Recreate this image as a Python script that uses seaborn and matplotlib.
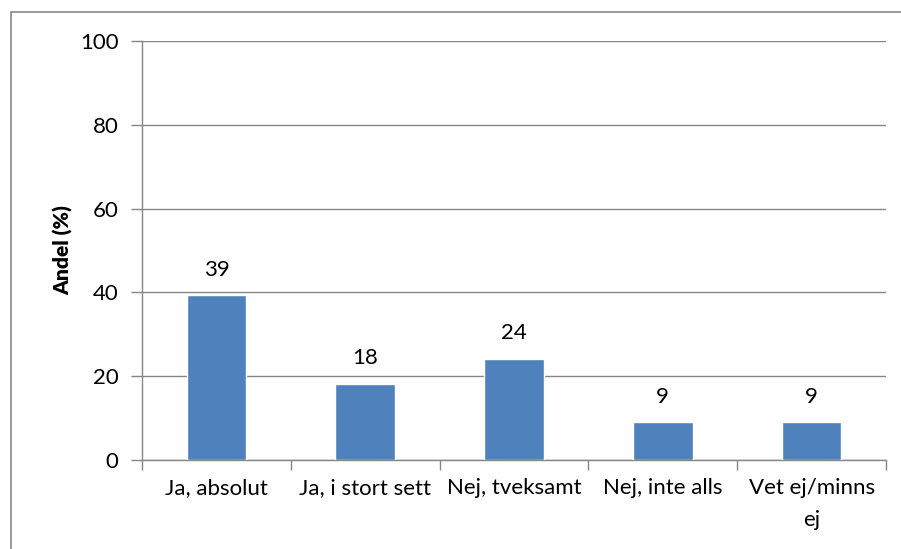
import matplotlib
matplotlib.use("Agg")

import matplotlib.pyplot as plt
import seaborn as sns
import pandas as pd
from matplotlib.patches import Rectangle

# Data
kategorier = ["Ja, absolut", "Ja, i stort sett", "Nej, tveksamt", "Nej, inte alls", "Vet ej/minns\nej"]
andel = [39.4, 18.2, 24.2, 9.1, 9.1]
yticks = [0, 20, 40, 60, 80, 100]

df = pd.DataFrame({"kategori": kategorier, "andel": andel})

sns.set_theme(style="white")
plt.rcParams["font.family"] = ["Lato", "DejaVu Sans"]
plt.rcParams["text.color"] = "black"
plt.rcParams["xtick.color"] = "black"
plt.rcParams["ytick.color"] = "black"
plt.rcParams["axes.labelcolor"] = "black"

grey = "#868686"
fs = 16
fig = plt.figure(figsize=(9.01, 5.49), dpi=100)
ax = fig.add_axes([142 / 901, 1 - 460 / 549, 744 / 901, 419 / 549])

sns.barplot(data=df, x="kategori", y="andel", color="#4F81BD", width=0.4,
            saturation=1, ax=ax, zorder=3)

ax.bar_label(ax.containers[0], labels=[f"{v:.0f}" for v in andel],
             padding=11, fontsize=fs, color="black")

ax.set_ylim(0, 100)
ax.set_xlim(-0.5, len(kategorier) - 0.5)
ax.set_yticks(yticks)
ax.set_yticklabels([str(t) for t in yticks], fontsize=fs)
ax.yaxis.grid(True, color=grey, linewidth=1)
ax.set_axisbelow(True)

# category labels at centres, tick marks at category boundaries
ax.set_xticks(range(len(kategorier)))
ax.set_xticklabels(kategorier, fontsize=fs, linespacing=1.75)
ax.set_xticks([i - 0.5 for i in range(len(kategorier) + 1)], minor=True)
ax.tick_params(axis="x", which="major", length=0, pad=13)
ax.tick_params(axis="x", which="minor", length=7, width=1, color=grey, direction="out", bottom=True)
ax.tick_params(axis="y", length=8, width=1, color=grey, direction="out", left=True, pad=9)

ax.set_xlabel("")
ax.set_ylabel("Andel (%)", fontsize=15, fontweight="heavy", labelpad=5)

for side in ["top", "right"]:
    ax.spines[side].set_visible(False)
for side in ["left", "bottom"]:
    ax.spines[side].set_color(grey)
    ax.spines[side].set_linewidth(1)

# outer chart border like the original
fig.patches.append(Rectangle((11 / 901, -0.1), 1.2, 1 - 12 / 549 + 0.1,
                             transform=fig.transFigure, fill=False,
                             edgecolor=grey, linewidth=1.2))

fig.savefig("out.png", dpi=100)
